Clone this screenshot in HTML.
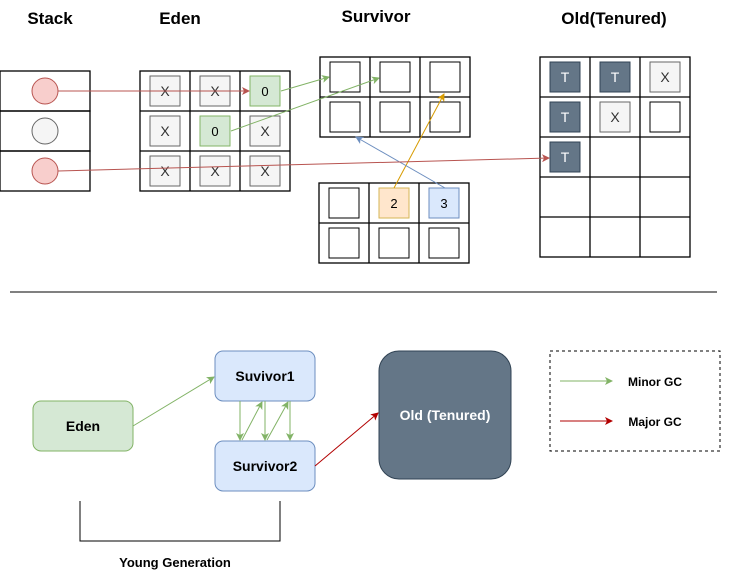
<!DOCTYPE html>
<html><head><style>body{margin:0;background:#fff}svg{display:block}</style></head><body>
<svg width="732" height="583" xmlns="http://www.w3.org/2000/svg" font-family="Liberation Sans, Arial, sans-serif">
<defs>
<marker id="r" markerWidth="8" markerHeight="8" refX="7" refY="4" orient="auto" markerUnits="userSpaceOnUse"><path d="M0,0 L8,4 L0,8 L2,4z" fill="#b85450"/></marker>
<marker id="g" markerWidth="8" markerHeight="8" refX="7" refY="4" orient="auto" markerUnits="userSpaceOnUse"><path d="M0,0 L8,4 L0,8 L2,4z" fill="#82b366"/></marker>
<marker id="o" markerWidth="8" markerHeight="8" refX="7" refY="4" orient="auto" markerUnits="userSpaceOnUse"><path d="M0,0 L8,4 L0,8 L2,4z" fill="#d79b00"/></marker>
<marker id="b" markerWidth="8" markerHeight="8" refX="7" refY="4" orient="auto" markerUnits="userSpaceOnUse"><path d="M0,0 L8,4 L0,8 L2,4z" fill="#6c8ebf"/></marker>
<marker id="dr" markerWidth="8" markerHeight="8" refX="7" refY="4" orient="auto" markerUnits="userSpaceOnUse"><path d="M0,0 L8,4 L0,8 L2,4z" fill="#b20000"/></marker>
</defs>
<g font-weight="bold" font-size="17" fill="#000" text-anchor="middle">
<text x="50" y="24">Stack</text><text x="180" y="24">Eden</text><text x="376" y="22">Survivor</text><text x="614" y="24">Old(Tenured)</text>
</g>
<g fill="none" stroke="#000" stroke-width="1.3">
<rect x="0" y="71" width="90" height="40"/><rect x="0" y="111" width="90" height="40"/><rect x="0" y="151" width="90" height="40"/>
</g>
<circle cx="45" cy="91" r="13" fill="#f8cecc" stroke="#b85450"/>
<circle cx="45" cy="131" r="13" fill="#f5f5f5" stroke="#666"/>
<circle cx="45" cy="171" r="13" fill="#f8cecc" stroke="#b85450"/>
<g fill="none" stroke="#000" stroke-width="1.3">
<rect x="140" y="71" width="150" height="120"/><path d="M190 71V191M240 71V191M140 111H290M140 151H290"/>
<rect x="320" y="57" width="150" height="80"/><path d="M370 57V137M420 57V137M320 97H470"/>
<rect x="319" y="183" width="150" height="80"/><path d="M369 183V263M419 183V263M319 223H469"/>
<rect x="540" y="57" width="150" height="200"/><path d="M590 57V257M640 57V257M540 97H690M540 137H690M540 177H690M540 217H690"/>
</g>
<g font-size="14" text-anchor="middle">
<g fill="#f5f5f5" stroke="#666">
<rect x="150" y="76" width="30" height="30"/><rect x="200" y="76" width="30" height="30"/>
<rect x="150" y="116" width="30" height="30"/><rect x="250" y="116" width="30" height="30"/>
<rect x="150" y="156" width="30" height="30"/><rect x="200" y="156" width="30" height="30"/><rect x="250" y="156" width="30" height="30"/>
<rect x="650" y="62" width="30" height="30"/><rect x="600" y="102" width="30" height="30"/>
</g>
<g fill="#d5e8d4" stroke="#82b366"><rect x="250" y="76" width="30" height="30"/><rect x="200" y="116" width="30" height="30"/></g>
<g fill="none" stroke="#000">
<rect x="330" y="62" width="30" height="30"/><rect x="380" y="62" width="30" height="30"/><rect x="430" y="62" width="30" height="30"/>
<rect x="330" y="102" width="30" height="30"/><rect x="380" y="102" width="30" height="30"/><rect x="430" y="102" width="30" height="30"/>
<rect x="329" y="188" width="30" height="30"/>
<rect x="329" y="228" width="30" height="30"/><rect x="379" y="228" width="30" height="30"/><rect x="429" y="228" width="30" height="30"/>
<rect x="650" y="102" width="30" height="30"/>
</g>
<rect x="379" y="188" width="30" height="30" fill="#ffe6cc" stroke="#d6b656"/>
<rect x="429" y="188" width="30" height="30" fill="#dae8fc" stroke="#6c8ebf"/>
<g fill="#647687" stroke="#314354"><rect x="550" y="62" width="30" height="30"/><rect x="600" y="62" width="30" height="30"/><rect x="550" y="102" width="30" height="30"/><rect x="550" y="142" width="30" height="30"/></g>
<g fill="#333"><text x="165" y="96">X</text><text x="215" y="96">X</text><text x="165" y="136">X</text><text x="265" y="136">X</text><text x="165" y="176">X</text><text x="215" y="176">X</text><text x="265" y="176">X</text><text x="665" y="82">X</text><text x="615" y="122">X</text></g>
<g font-size="13"><text x="265" y="96">0</text><text x="215" y="136">0</text><text x="394" y="208">2</text><text x="444" y="208">3</text></g>
<g fill="#fff"><text x="565" y="82">T</text><text x="615" y="82">T</text><text x="565" y="122">T</text><text x="565" y="162">T</text></g>
</g>
<g fill="none" stroke-width="1">
<line x1="58" y1="91" x2="249" y2="91" stroke="#b85450" marker-end="url(#r)"/>
<line x1="281" y1="91" x2="329" y2="77" stroke="#82b366" marker-end="url(#g)"/>
<line x1="231" y1="131" x2="379" y2="78" stroke="#82b366" marker-end="url(#g)"/>
<line x1="394" y1="188" x2="444" y2="94" stroke="#d79b00" marker-end="url(#o)"/>
<line x1="445" y1="188" x2="356" y2="137" stroke="#6c8ebf" marker-end="url(#b)"/>
<line x1="58" y1="171" x2="549" y2="158" stroke="#b85450" marker-end="url(#r)"/>
</g>
<line x1="10" y1="292" x2="717" y2="292" stroke="#000"/>
<rect x="33" y="401" width="100" height="50" rx="8" fill="#d5e8d4" stroke="#82b366"/>
<rect x="215" y="351" width="100" height="50" rx="8" fill="#dae8fc" stroke="#6c8ebf"/>
<rect x="215" y="441" width="100" height="50" rx="8" fill="#dae8fc" stroke="#6c8ebf"/>
<rect x="379" y="351" width="132" height="128" rx="20" fill="#647687" stroke="#314354"/>
<rect x="550" y="351" width="170" height="100" fill="none" stroke="#000" stroke-dasharray="3,3"/>
<g font-weight="bold" font-size="14" text-anchor="middle">
<text x="83" y="431">Eden</text><text x="265" y="381">Suvivor1</text><text x="265" y="471">Survivor2</text>
<text x="445" y="420" fill="#fff">Old (Tenured)</text>
<text x="175" y="567" font-size="13">Young Generation</text>
<text x="655" y="386" font-size="12">Minor GC</text><text x="655" y="426" font-size="12">Major GC</text>
</g>
<g fill="none" stroke="#82b366">
<line x1="133" y1="426" x2="214" y2="377" marker-end="url(#g)"/>
<line x1="240" y1="401" x2="240" y2="440" marker-end="url(#g)"/>
<line x1="265" y1="401" x2="265" y2="440" marker-end="url(#g)"/>
<line x1="290" y1="401" x2="290" y2="440" marker-end="url(#g)"/>
<line x1="242" y1="440" x2="262" y2="402" marker-end="url(#g)"/>
<line x1="267" y1="440" x2="288" y2="402" marker-end="url(#g)"/>
<line x1="560" y1="381" x2="612" y2="381" marker-end="url(#g)"/>
</g>
<line x1="315" y1="466" x2="378" y2="413" stroke="#b20000" marker-end="url(#dr)"/>
<line x1="560" y1="421" x2="612" y2="421" stroke="#b20000" marker-end="url(#dr)"/>
<path d="M80 501V541H280V501" fill="none" stroke="#000"/>
</svg>
</body></html>
